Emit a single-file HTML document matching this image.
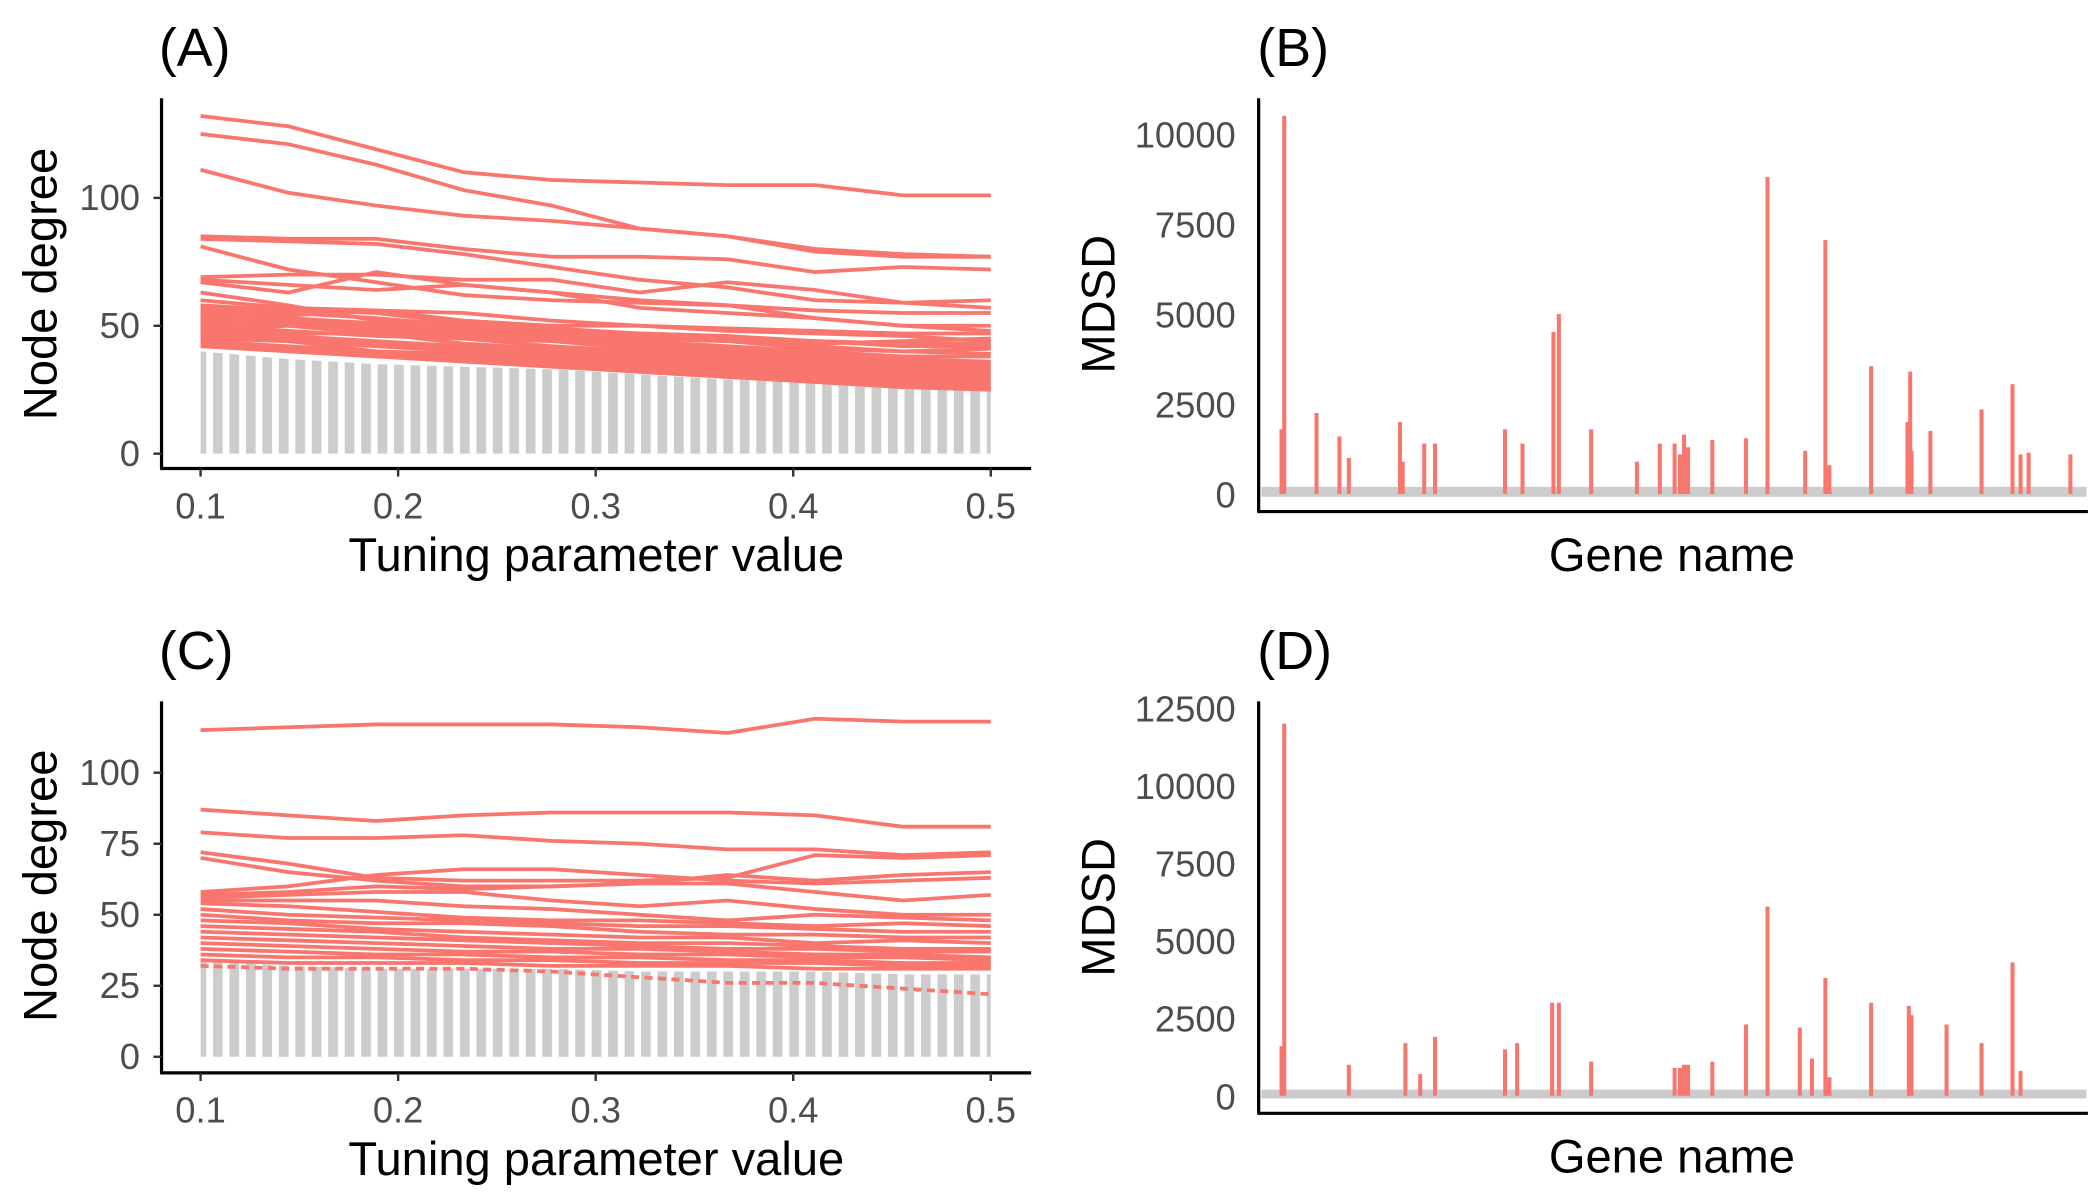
<!DOCTYPE html>
<html><head><meta charset="utf-8"><style>
html,body{margin:0;padding:0;background:#fff;}
svg{display:block;}
text{font-family:"Liberation Sans",sans-serif;}
.tick{fill:#4d4d4d;font-size:27px;}
.ttl{fill:#000;font-size:35px;}
.pl{fill:#000;font-size:40px;}
</style></head><body>
<svg id="fig" width="2100" height="1200" viewBox="0 0 1560 891.4" preserveAspectRatio="none" xmlns="http://www.w3.org/2000/svg">
<defs>
<pattern id="stripes" patternUnits="userSpaceOnUse" x="146" y="0" width="12.23" height="10">
<rect x="0" y="0" width="7.2" height="10" fill="#cccccc"/>
</pattern>
</defs>
<g id="root"></g>
</svg>
<script>
// ---------- data ----------
const tuneX = [0.1,0.1444,0.1889,0.2333,0.2778,0.3222,0.3667,0.4111,0.4556,0.5];
const xTicks = [0.1,0.2,0.3,0.4,0.5];
const ticksA = [0,50,100];
const ticksC = [0,25,50,75,100];
const ticksB = [0,2500,5000,7500,10000];
const ticksD = [0,2500,5000,7500,10000,12500];
const grayTopA = [40,37,35,34,33,31,29,28,26,25];
const grayTopC = [34,32,31,31,31,30,30,30,29,29];
const linesA = [
[132,128,119,110,107,106,105,105,101,101],
[125,121,113,103,97,88,85,79,77,77],
[111,102,97,93,91,88,85,80,78,77],
[85,84,84,80,77,77,76,71,73,72],
[84,83,82,78,73,68,65,60,59,60],
[81,72,67,62,60,59,58,53,50,50],
[69,70,70,68,68,63,67,64,59,57],
[68,66,64,66,63,60,58,56,55,55],
[67,63,71,66,63,57,55,53,50,48],
[63,58,52,50,48,47,46,43,44,45],
[60,57,56,55,52,50,48,47,46,44],
[58,56,55,51,48,47,46,44,43,42],
[56,55,53,50,49,47,45,42,40,41],
[55,53,51,49,47,45,44,41,40,39],
[54,52,50,48,46,44,42,40,38,38],
[53,51,49,47,45,43,41,39,37,36],
[52,52,48,46,44,42,40,38,36,35],
[51,50,47,45,44,41,39,37,35,34],
[50,48,46,45,42,40,38,36,34,33],
[49,47,47,43,41,39,37,35,33,32],
[48,46,44,42,40,38,36,34,32,31],
[47,45,43,41,39,37,35,33,31,30],
[46,44,42,40,38,36,34,32,30,29],
[45,44,40,39,37,35,33,31,29,28],
[44,42,40,38,36,34,32,30,28,27],
[43,41,39,37,35,33,31,29,27,26],
[42,40,38,36,34,32,30,28,26,25],
[50,52,50,48,46,46,45,44,42,42],
[57,54,56,52,50,50,49,48,47,47],
[48,50,49,47,47,45,44,44,43,43]
];
const linesC = [
[115,116,117,117,117,116,114,119,118,118],
[87,85,83,85,86,86,86,85,81,81],
[79,77,77,78,76,75,73,73,71,72],
[72,68,63,62,62,62,63,71,70,71],
[70,65,62,60,60,61,64,62,64,65],
[58,60,64,66,66,64,62,61,62,63],
[57,58,60,59,60,61,61,58,55,57],
[56,57,58,58,55,53,55,52,50,50],
[55,55,55,53,52,50,48,50,49,48],
[54,53,51,49,48,48,47,46,47,46],
[52,50,49,48,47,46,46,45,44,44],
[50,48,47,47,46,44,43,43,42,42],
[48,47,45,44,43,42,42,40,41,40],
[46,45,44,42,41,40,40,39,38,38],
[44,43,42,41,40,39,38,38,37,37],
[42,41,40,39,38,38,37,36,36,35],
[40,39,38,37,37,36,36,35,35,34],
[38,37,36,36,35,35,34,34,33,33],
[36,35,35,34,34,33,33,33,32,32],
[34,33,33,33,32,32,32,31,31,31],
[32,31,31,31,30,28,26,26,24,22]
];
const geneB = [14,12,38,55,62,100,102,118,126,178,191,214,218,242,276,293,304,308,311,314,332,357,373,401,416,419,450,477,479,480,494,532,555,561,567,598];
const mdsdB = [10500,1800,2250,1600,1000,2000,900,1400,1400,1800,1400,4500,5000,1800,900,1400,1400,1100,1650,1300,1500,1550,8800,1200,7050,800,3550,2000,3400,1200,1750,2350,3050,1100,1150,1100];
const geneD = [14,12,62,104,115,126,178,187,213,218,242,304,308,311,314,332,357,373,397,406,416,419,450,478,480,506,532,555,561];
const mdsdD = [12000,1600,1000,1700,700,1900,1500,1700,3000,3000,1100,900,900,1000,1000,1100,2300,6100,2200,1200,3800,600,3000,2900,2600,2300,1700,4300,800];
const baseB = 200, baseD = 200;

// ---------- scales ----------
const xA = v => 149 + (v-0.1)/0.4*587;
const yA = v => 337 - v*1.9;
const yC = v => 785 - v*2.11;
const gx = i => 940 + i*1.0;
const yB = v => 367 - v*0.02676;
const yD = v => 814 - v*0.02304;

const NS = "http://www.w3.org/2000/svg";
const root = document.getElementById('root');
function mk(tag, attrs, parent){
  const e = document.createElementNS(NS, tag);
  for (const k in attrs) e.setAttribute(k, attrs[k]);
  (parent||root).appendChild(e);
  return e;
}
function txt(x,y,s,cls,anchor,parent,rot){
  const t = mk('text',{x:x,y:y,class:cls,'text-anchor':anchor||'middle'},parent);
  if(rot) t.setAttribute('transform','rotate(-90 '+x+' '+y+')');
  t.textContent = s;
  return t;
}

function linePanel(id, yS, ticks, gray, lines, top, bottom, labelY, letter){
  const g = mk('g',{});
  
  
  let d = 'M'+xA(tuneX[0])+','+yS(0);
  tuneX.forEach((x,i)=>{ d += ' L'+xA(x)+','+yS(gray[i]); });
  d += ' L'+xA(tuneX[tuneX.length-1])+','+yS(0)+' Z';
  const ga = mk('path',{d:d,fill:'url(#stripes)'},g);
  
  
  lines.forEach((ln,k)=>{
    const pd = ln.map((v,i)=>(i?'L':'M')+xA(tuneX[i])+','+yS(v)).join(' ');
    const p = mk('path',{d:pd,fill:'none',stroke:'#f8766d','stroke-width':2.8},g);
    if (id==='c' && k===lines.length-1) p.setAttribute('stroke-dasharray','6 4');
    
    
  });
  mk('line',{x1:120,y1:top,x2:120,y2:bottom,stroke:'#000','stroke-width':2.4},g);
  mk('line',{x1:119,y1:bottom,x2:766,y2:bottom,stroke:'#000','stroke-width':2.4},g);
  ticks.forEach(t=>{
    mk('line',{x1:114,y1:yS(t),x2:120,y2:yS(t),stroke:'#333','stroke-width':1.8},g);
    const tl = txt(104,yS(t)+9,String(t),'tick','end',g);
    
    
  });
  xTicks.forEach(t=>{
    mk('line',{x1:xA(t),y1:bottom,x2:xA(t),y2:bottom+6,stroke:'#333','stroke-width':1.8},g);
    const tl = txt(xA(t),bottom+37,t.toFixed(1),'tick','middle',g);
    
    
  });
  const xt = txt(443,bottom+76,'Tuning parameter value','ttl','middle',g);
  
  
  const yt = txt(42,labelY,'Node degree','ttl','middle',g,true);
  
  
  const pl = txt(118,top-24,'('+letter+')','pl','start',g);
  
  
}

function barPanel(id, yS, ticks, genes, vals, base, top, bottom, labelY, letter){
  const g = mk('g',{});
  
  
  const br = mk('rect',{x:937,y:yS(base),width:613,height:yS(0)-yS(base)+2,fill:'#cccccc'},g);
  
  
  genes.forEach((gi,k)=>{
    const b = mk('rect',{x:gx(gi)-1.5,y:yS(vals[k]),width:3,height:yS(0)-yS(vals[k]),fill:'#f8766d'},g);
    
    
  });
  mk('line',{x1:935,y1:top,x2:935,y2:bottom,stroke:'#000','stroke-width':2.4},g);
  mk('line',{x1:934,y1:bottom,x2:1551,y2:bottom,stroke:'#000','stroke-width':2.4},g);
  ticks.forEach(t=>{
    const tl = txt(918,yS(t)+10,String(t),'tick','end',g);
    
    
  });
  const xt = txt(1242,bottom+44,'Gene name','ttl','middle',g);
  
  
  const yt = txt(828,labelY,'MDSD','ttl','middle',g,true);
  
  
  const pl = txt(934,top-24,'('+letter+')','pl','start',g);
  
  
}

linePanel('a', yA, ticksA, grayTopA, linesA, 73, 348, 211, 'A');
barPanel('b', yB, ticksB, geneB, mdsdB, baseB, 73, 380, 226, 'B');
linePanel('c', yC, ticksC, grayTopC, linesC, 521, 797, 658, 'C');
barPanel('d', yD, ticksD, geneD, mdsdD, baseD, 521, 827, 674, 'D');
</script>
</body></html>
